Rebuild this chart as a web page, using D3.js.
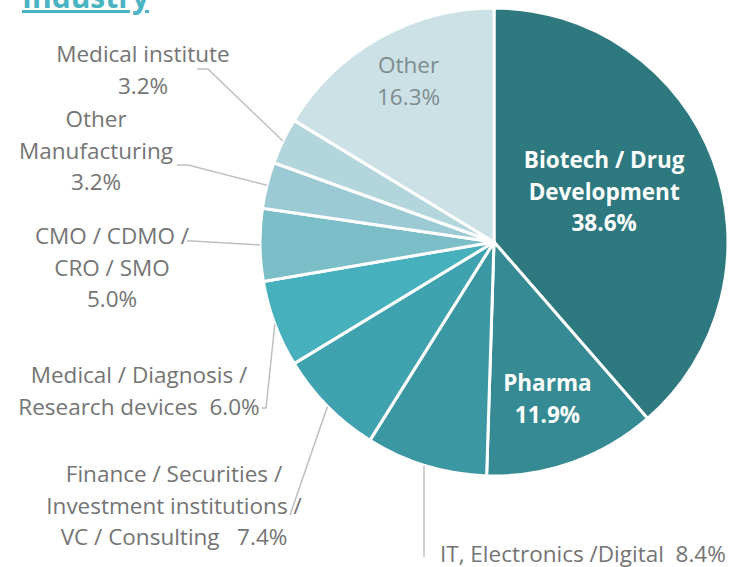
<!DOCTYPE html>
<html>
<head>
<meta charset="utf-8">
<script src="https://cdn.jsdelivr.net/npm/d3@7"></script>
<style>
  body { margin: 0; background: #fff; }
  svg { display: block; font-family: "Open Sans", "Noto Sans", sans-serif; }
</style>
</head>
<body>
<div id="app"></div>
<script>
// data
const categories = ['Biotech / Drug Development', 'Pharma', 'IT, Electronics /Digital', 'Finance / Securities / Investment institutions / VC / Consulting',
  'Medical / Diagnosis / Research devices', 'CMO / CDMO / CRO / SMO', 'Other Manufacturing', 'Medical institute', 'Other'];
const shares = [38.6, 11.9, 8.4, 7.4, 6.0, 5.0, 3.2, 3.2, 16.3];
const colors = ['#2e7880', '#358a93', '#3b97a2', '#40a2ae', '#46b0bd', '#7bbec8', '#9bcad4', '#b3d5dc', '#cbe1e6'];

// label lines (text per slice)
const labelLines = [
  ['Biotech / Drug', 'Development', '38.6%'],
  ['Pharma', '11.9%'],
  ['IT, Electronics /Digital  8.4%'],
  ['Finance / Securities /', 'Investment institutions /', 'VC / Consulting   7.4%'],
  ['Medical / Diagnosis /', 'Research devices  6.0%'],
  ['CMO / CDMO /', 'CRO / SMO', '5.0%'],
  ['Other', 'Manufacturing', '3.2%'],
  ['Medical institute', '3.2%'],
  ['Other', '16.3%']
];

const width = 735, height = 567;
const cx = 494, cy = 242, R = 234;
const lineH = 31.5;
const fs = '22.5px';

// label layout: inside labels by radius factor, outside ones by anchor + elbow
const layout = [
  {inside: true, k: 0.53, dx: -6, dy: -7, fill: '#fff', bold: true},
  {inside: true, k: 0.68, dx: 0, dy: 7, fill: '#fff', bold: true},
  {x: 440, y: 562, anchor: 'start', elbow: [[424, 557]], endX: 424},
  {x: 174, y: 482, anchor: 'middle', elbow: [[290, 515]]},
  {x: 139, y: 383, anchor: 'middle', elbow: [[262, 408], [266, 408]]},
  {x: 112, y: 244, anchor: 'middle', elbow: [[187, 241], [192, 241]]},
  {x: 96, y: 127, anchor: 'middle', elbow: [[177, 165], [188, 165]]},
  {x: 143, y: 62, anchor: 'middle', elbow: [[197, 69], [208, 69]]},
  {inside: true, k: 0.78, dx: 4, dy: -2, fill: '#7f8c8e', bold: false}
];

const svg = d3.select('#app').append('svg').attr('width', width).attr('height', height);

const pie = d3.pie().sort(null).value(d => d)(shares);
const arc = d3.arc().innerRadius(0).outerRadius(R);

const g = svg.append('g').attr('transform', `translate(${cx},${cy})`);
g.selectAll('path')
  .data(pie)
  .enter()
  .append('path')
  .attr('d', arc)
  .attr('fill', (d, i) => colors[i])
  .attr('stroke', '#fff')
  .attr('stroke-width', 3)
  .attr('stroke-linejoin', 'round');

// point on the rim at the slice middle
const rim = (d, r) => {
  const a = (d.startAngle + d.endAngle) / 2;
  return [cx + r * Math.sin(a), cy - r * Math.cos(a)];
};

pie.forEach((d, i) => {
  const L = layout[i];
  const lines = labelLines[i];
  if (L.inside) {
    const p = rim(d, R * L.k);
    const x0 = p[0] + L.dx;
    const y0 = p[1] + L.dy - (lines.length - 1) * lineH / 2 + 8;
    const t = svg.append('text')
      .attr('text-anchor', 'middle')
      .attr('fill', L.fill)
      .attr('font-size', fs)
      .attr('font-weight', L.bold ? 700 : 400);
    lines.forEach((s, j) => t.append('tspan').attr('x', x0).attr('y', y0 + j * lineH).text(s));
  } else {
    const e = rim(d, R);
    if (L.endX) e[0] = L.endX;
    svg.append('path')
      .attr('d', d3.line()([...L.elbow, e]))
      .attr('fill', 'none')
      .attr('stroke', '#bfbfbf')
      .attr('stroke-width', 1.5);
    const t = svg.append('text')
      .attr('text-anchor', L.anchor)
      .attr('fill', '#747474')
      .attr('font-size', fs);
    lines.forEach((s, j) => t.append('tspan').attr('x', L.x).attr('y', L.y + j * lineH).attr('xml:space', 'preserve').text(s));
  }
});

// title, cut off at the top like the source
svg.append('text')
  .attr('x', 22)
  .attr('y', 8)
  .attr('fill', '#4bb4c3')
  .attr('font-size', '30px')
  .attr('font-weight', 700)
  .attr('text-decoration', 'underline')
  .text('Industry');
</script>
</body>
</html>
